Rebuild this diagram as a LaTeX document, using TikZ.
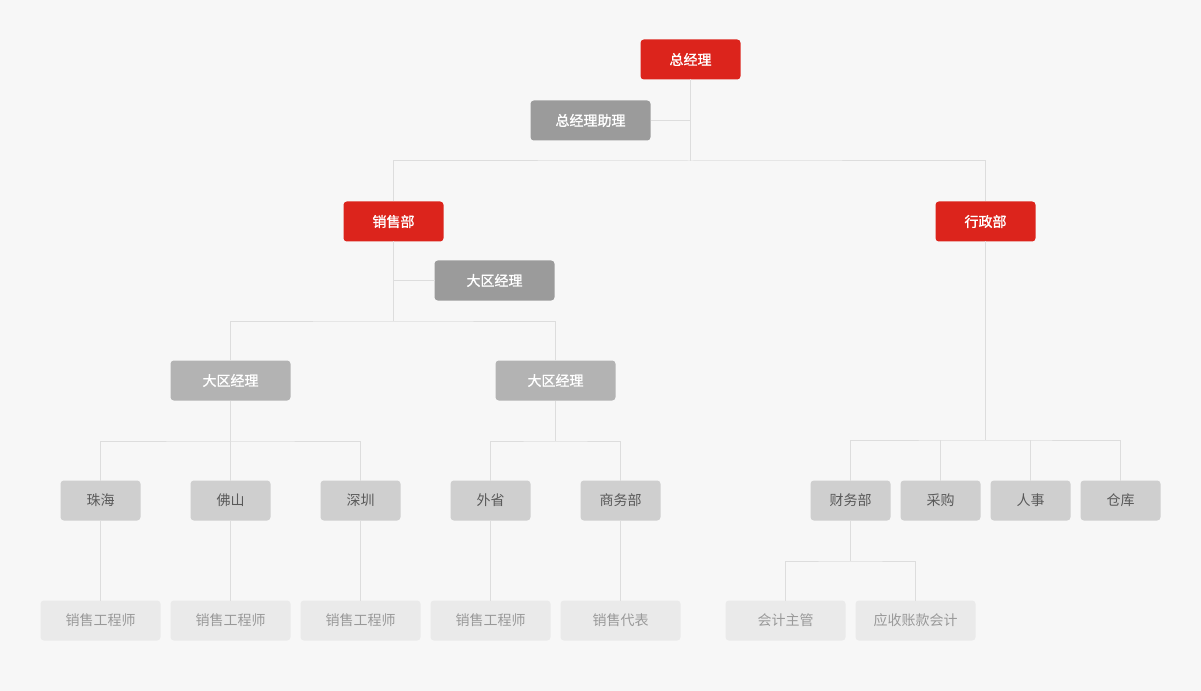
\documentclass[tikz,border=0pt]{standalone}
\usepackage{fontspec}
\setmainfont{Noto Sans CJK SC}
\newfontfamily\midfont[FakeBold=1.2]{Noto Sans CJK SC}
\usetikzlibrary{positioning}
\definecolor{bgcol}{HTML}{F7F7F7}
\definecolor{bossred}{HTML}{DC241C}
\definecolor{helpgray}{HTML}{9B9B9B}
\definecolor{areagray}{HTML}{B3B3B3}
\definecolor{branchgray}{HTML}{CFCFCF}
\definecolor{staffgray}{HTML}{EAEAEA}
\definecolor{linkgray}{HTML}{DDDDDD}

\tikzset{
    unit/.style={rounded corners=2.5pt, inner sep=0pt, outer sep=0pt, minimum height=30pt,
        font=\fontsize{10.5}{12}\selectfont},
    boss/.style={unit, fill=bossred, text=white, minimum width=75pt, font=\fontsize{10.5}{12}\midfont},
    helper/.style={unit, fill=helpgray, text=white, minimum width=90pt, font=\fontsize{10.5}{12}\midfont},
    area/.style={unit, fill=areagray, text=white, minimum width=90pt, font=\fontsize{10.5}{12}\midfont},
    branch/.style={unit, fill=branchgray, text=black!65, minimum width=60pt},
    staff/.style={unit, fill=staffgray, text=black!40, minimum width=90pt},
    link/.style={draw=linkgray, line width=0.75pt},
}

\begin{document}
\begin{tikzpicture}[x=0.75pt, y=-0.75pt]
        \fill[bgcol] (0,0) rectangle (1201,691);
        \useasboundingbox (0,0) rectangle (1201,691);
        % top
        \node[boss] (gm) at (690.5,59.5) {总经理};
        \node[helper] (gmhelp) at (590.5,120.5) {总经理助理};
        \node[boss] (sales) at (393.5,221.5) {销售部};
        \node[boss] (admin) at (985.5,221.5) {行政部};
        \node[helper] (salhelp) at (494.5,280.5) {大区经理};
        % regions
        \node[area] (west) at (230.5,380.5) {大区经理};
        \node[area] (east) at (555.5,380.5) {大区经理};
        % branches
        \node[branch] (zh) at (100.5,500.5) {珠海};
        \node[branch, right = 37.5pt of zh] (fs) {佛山};
        \node[branch, right = 37.5pt of fs] (sz) {深圳};
        \node[branch, right = 37.5pt of sz] (ws) {外省};
        \node[branch, right = 37.5pt of ws] (sw) {商务部};
        \node[branch] (cw) at (850.5,500.5) {财务部};
        \node[branch, right = 7.5pt of cw] (cg) {采购};
        \node[branch, right = 7.5pt of cg] (rs) {人事};
        \node[branch, right = 7.5pt of rs] (ck) {仓库};
        % staff
        \node[staff, below = 60pt of zh] (zhs) {销售工程师};
        \node[staff, below = 60pt of fs] (fss) {销售工程师};
        \node[staff, below = 60pt of sz] (szs) {销售工程师};
        \node[staff, below = 60pt of ws] (wss) {销售工程师};
        \node[staff, below = 60pt of sw] (sws) {销售代表};
        \node[staff] (kj) at (785.5,620.5) {会计主管};
        \node[staff, right = 7.5pt of kj] (ys) {应收账款会计};
        % junctions
        \coordinate (j0) at (690.5,161);
        \coordinate (j1) at (393.5,321);
        \coordinate (j2) at (230.5,441);
        \coordinate (j3) at (555.5,441);
        \coordinate (j4) at (985.5,440);
        \coordinate (j5) at (850.5,561);
        % links
        \draw[link] (gm.south) -- (j0);
        \draw[link] (gmhelp.east) -- (gmhelp.east -| gm);
        \draw[link] (sales.north) |- (j0) -| (admin.north);
        \draw[link] (sales.south) -- (j1);
        \draw[link] (salhelp.west) -- (salhelp.west -| sales);
        \draw[link] (west.north) |- (j1) -| (east.north);
        \draw[link] (west.south) -- (j2);
        \draw[link] (zh.north) |- (j2) -| (sz.north);
        \draw[link] (j2) -- (fs.north);
        \draw[link] (east.south) -- (j3);
        \draw[link] (ws.north) |- (j3) -| (sw.north);
        \draw[link] (admin.south) -- (j4);
        \draw[link] (cw.north) |- (j4) -| (ck.north);
        \draw[link] (cg.north) -- (cg.north |- j4);
        \draw[link] (rs.north) -- (rs.north |- j4);
        \draw[link] (zh) -- (zhs);
        \draw[link] (fs) -- (fss);
        \draw[link] (sz) -- (szs);
        \draw[link] (ws) -- (wss);
        \draw[link] (sw) -- (sws);
        \draw[link] (cw.south) -- (j5);
        \draw[link] (kj.north) |- (j5) -| (ys.north);
\end{tikzpicture}
\end{document}
